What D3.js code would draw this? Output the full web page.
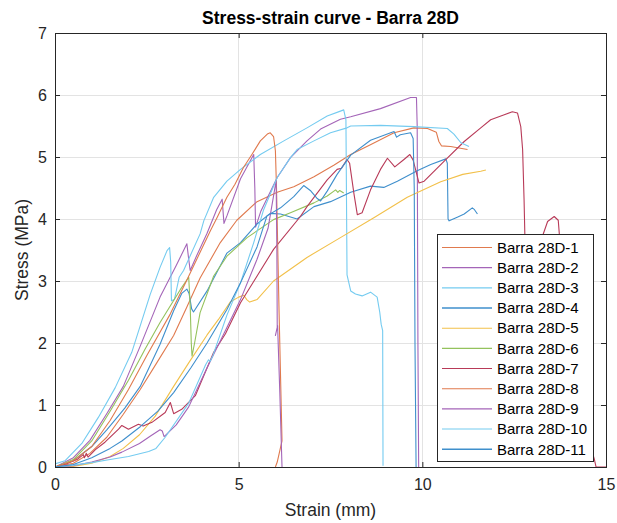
<!DOCTYPE html>
<html><head><meta charset="utf-8">
<script src="https://cdn.jsdelivr.net/npm/d3@7"></script>
<style>body{margin:0;background:#fff;}svg{display:block;font-family:"Liberation Sans",Arial,sans-serif;}</style>
</head><body><div id="chart"></div>
<script>
const seriesNames = ["Barra 28D-1","Barra 28D-2","Barra 28D-3","Barra 28D-4","Barra 28D-5","Barra 28D-6","Barra 28D-7","Barra 28D-8","Barra 28D-9","Barra 28D-10","Barra 28D-11"];
const seriesColors = ["#E07A4E","#A465B8","#74CBF0","#3F8FCC","#F2C04A","#94C25C","#B83A58","#E07A4E","#A465B8","#74CBF0","#3F8FCC"];
const xTicks = [0,5,10,15];
const yTicks = [0,1,2,3,4,5,6,7];

const barra1 = [[0,0],[0.5,0.06],[0.95,0.22],[1.41,0.48],[1.86,0.85],[2.32,1.25],[2.77,1.68],[3.23,2.12],[3.59,2.58],[3.95,3.05],[4.5,3.62],[4.95,3.98],[5.5,4.28],[6.05,4.43],[6.5,4.52],[7.05,4.68],[7.6,4.87],[8.05,5.04],[8.6,5.2],[9.23,5.39],[9.77,5.47],[10.14,5.46],[10.38,5.4],[10.45,5.25],[10.52,5.18],[10.77,5.17],[11.23,5.12]];
const barra2 = [[0,0],[0.5,0.15],[0.95,0.43],[1.4,0.85],[1.86,1.3],[2.32,1.95],[2.86,2.74],[3.3,3.25],[3.59,3.6],[3.63,3.4],[3.68,3.17],[3.85,3.4],[4.14,3.77],[4.4,4.15],[4.55,4.32],[4.6,3.93],[4.68,4.05],[5.05,4.65],[5.41,5.04],[5.44,4.5],[5.46,3.87],[5.6,4.12],[6.05,4.67],[6.41,4.99],[6.86,5.26],[7.23,5.45],[7.77,5.61],[8.05,5.65],[8.86,5.78],[9.68,5.96],[9.84,5.96],[9.86,5.5],[9.88,2],[9.9,0]];
const barra3 = [[0,0.05],[0.27,0.1],[0.73,0.38],[1.18,0.8],[1.64,1.28],[2.09,1.85],[2.59,2.78],[2.86,3.22],[3.05,3.49],[3.12,3.54],[3.15,3.3],[3.17,2.68],[3.25,2.7],[3.38,3.06],[3.5,3.17],[3.95,3.76],[4.05,3.97],[4.32,4.35],[4.68,4.61],[5.05,4.8],[5.59,5.04],[6.23,5.26],[6.86,5.47],[7.41,5.66],[7.77,5.74],[7.86,5.76],[7.92,5.6],[7.95,3.1],[8.05,2.84],[8.18,2.79],[8.36,2.76],[8.59,2.82],[8.77,2.74],[8.84,2.5],[8.88,2.3],[8.92,2.2],[8.93,0.02]];
const barra4 = [[0,0],[0.5,0.1],[1.0,0.33],[1.41,0.6],[1.9,0.95],[2.32,1.3],[2.86,1.98],[3.23,2.52],[3.45,2.8],[3.59,2.87],[3.65,2.8],[3.72,2.55],[3.77,2.5],[4.14,2.84],[4.68,3.45],[5.05,3.62],[5.5,3.92],[5.86,4.09],[6.14,4.08],[6.59,4.0],[7.05,4.2],[7.5,4.28],[8.05,4.43],[8.59,4.53],[8.95,4.51],[9.32,4.61],[9.86,4.78],[10.23,4.88],[10.64,4.97],[10.68,4.9],[10.7,4.0],[10.73,3.97],[10.95,4.03],[11.14,4.08],[11.36,4.18],[11.42,4.15],[11.5,4.08]];
const barra5 = [[0,0],[0.5,0.01],[1.0,0.06],[1.5,0.17],[1.86,0.3],[2.3,0.52],[2.73,0.82],[3.23,1.3],[3.64,1.68],[4.14,2.13],[4.45,2.38],[4.77,2.66],[5.0,2.74],[5.14,2.77],[5.22,2.7],[5.3,2.66],[5.5,2.7],[5.95,3.0],[6.86,3.38],[7.77,3.7],[8.68,4.02],[9.59,4.35],[10.5,4.6],[11.1,4.72],[11.59,4.77],[11.73,4.79]];
const barra6 = [[0,0],[0.5,0.12],[1.0,0.42],[1.5,0.9],[2.0,1.4],[2.45,1.9],[2.86,2.33],[3.41,2.86],[3.64,3.06],[3.68,2.6],[3.71,2.0],[3.73,1.79],[3.8,2.0],[3.95,2.49],[4.32,3.08],[4.68,3.4],[5.23,3.7],[5.95,3.99],[6.41,4.1],[7.05,4.26],[7.41,4.37],[7.64,4.47],[7.7,4.43],[7.75,4.46],[7.86,4.42]];
const barra7 = [[0,0],[0.3,0.05],[0.6,0.12],[0.77,0.2],[0.8,0.15],[0.85,0.22],[0.9,0.16],[1.1,0.28],[1.36,0.4],[1.73,0.61],[1.82,0.67],[2.0,0.61],[2.27,0.69],[2.4,0.66],[2.64,0.72],[3.0,0.88],[3.14,1.04],[3.23,0.86],[3.45,0.93],[3.82,1.15],[4.32,1.85],[4.64,2.15],[5.05,2.65],[5.95,3.51],[6.68,4.04],[6.86,4.2],[7.41,4.63],[7.68,4.8],[7.8,4.82],[7.95,4.96],[8.02,4.9],[8.14,4.4],[8.23,4.07],[8.36,4.1],[8.59,4.47],[8.86,4.8],[9.05,4.98],[9.25,4.84],[9.5,4.96],[9.66,5.04],[9.75,4.95],[9.91,4.58],[10.05,4.61],[10.59,4.93],[11.14,5.25],[11.59,5.47],[11.86,5.6],[12.23,5.68],[12.45,5.73],[12.59,5.71],[12.68,5.49],[12.73,5.12],[12.77,4.3],[12.8,3.5],[12.85,2.5],[13.0,2.2],[13.2,3.6],[13.41,3.96],[13.59,4.04],[13.7,3.98],[13.75,3.6],[13.85,2.0],[14.3,0.9],[14.68,0.13],[14.73,0],[15.3,0]];
const barra8 = [[0,0],[0.5,0.1],[1.0,0.33],[1.5,0.75],[2.0,1.25],[2.5,1.8],[3.14,2.47],[3.6,3.03],[4.23,3.81],[4.41,4.02],[4.68,4.35],[4.9,4.56],[5.13,4.83],[5.36,5.04],[5.59,5.26],[5.78,5.37],[5.86,5.39],[5.95,5.33],[6.0,5.1],[6.03,4.5],[6.1,2.5],[6.18,0.42],[6.05,0.08],[6.0,0]];
const barra9 = [[0,0],[0.5,0.02],[1.0,0.08],[1.5,0.16],[1.82,0.24],[2.3,0.38],[2.6,0.5],[2.86,0.6],[2.92,0.58],[2.97,0.49],[3.3,0.68],[3.64,0.97],[4.14,1.6],[4.64,2.2],[5.05,2.7],[5.5,3.35],[5.8,3.85],[6.02,4.62],[6.04,3.5],[6.05,2.25],[6.0,2.12],[6.06,2.28],[6.12,1.2],[6.18,0]];
const barra10 = [[0,0],[0.5,0.03],[1.0,0.07],[1.5,0.12],[2.0,0.17],[2.55,0.25],[2.75,0.3],[3.0,0.48],[3.64,1.03],[4.1,1.65],[4.18,1.73],[4.22,1.7],[4.3,1.8],[4.68,2.45],[5.05,2.97],[5.41,3.62],[5.68,4.15],[6.05,4.67],[6.41,4.99],[6.59,5.12],[7.05,5.26],[7.5,5.39],[7.95,5.47],[8.05,5.5],[8.86,5.51],[9.77,5.49],[10.68,5.46],[10.86,5.37],[11.05,5.23],[11.27,5.17]];
const barra11 = [[0,0],[0.5,0.04],[1.0,0.15],[1.5,0.3],[1.82,0.42],[2.32,0.65],[2.8,0.9],[3.23,1.2],[3.7,1.6],[4.14,2.0],[4.68,2.54],[5.05,2.97],[5.5,3.55],[5.77,4.05],[6.14,4.18],[6.5,4.36],[6.77,4.54],[6.95,4.46],[7.14,4.33],[7.23,4.29],[7.41,4.45],[7.68,4.72],[8.05,5.03],[8.59,5.27],[9.23,5.41],[9.3,5.32],[9.4,5.36],[9.68,5.39],[9.75,5.3],[9.78,4.5],[9.8,2],[9.83,0]];

const allSeries = [barra1,barra2,barra3,barra4,barra5,barra6,barra7,barra8,barra9,barra10,barra11];
const series = seriesNames.map((name,i)=>({name, color: seriesColors[i], data: allSeries[i]}));

const W = 617, H = 523;
const m = {left:55, right:11, top:33, bottom:56};
const svg = d3.select("#chart").append("svg").attr("width",W).attr("height",H);
const x = d3.scaleLinear().domain([0,15]).range([m.left, W-m.right]);
const y = d3.scaleLinear().domain([0,7]).range([H-m.bottom, m.top]);
const axisColor = "#262626";

// grid
const grid = svg.append("g");
grid.selectAll("line.gx").data(xTicks).join("line")
  .attr("x1",d=>x(d)).attr("x2",d=>x(d)).attr("y1",y(0)).attr("y2",y(7))
  .attr("stroke","#e3e3e3").attr("stroke-width",1).attr("shape-rendering","crispEdges");
grid.selectAll("line.gy").data(yTicks).join("line")
  .attr("x1",x(0)).attr("x2",x(15)).attr("y1",d=>y(d)).attr("y2",d=>y(d))
  .attr("stroke","#e3e3e3").attr("stroke-width",1).attr("shape-rendering","crispEdges");

svg.append("defs").append("clipPath").attr("id","clip").append("rect")
  .attr("x",x(0)).attr("y",y(7)).attr("width",x(15)-x(0)).attr("height",y(0)-y(7));

const line = d3.line().x(d=>x(d[0])).y(d=>y(d[1]));
const gl = svg.append("g").attr("clip-path","url(#clip)");
gl.selectAll("path").data(series).join("path")
  .attr("d",d=>line(d.data)).attr("fill","none")
  .attr("stroke",d=>d.color).attr("stroke-width",1.1).attr("stroke-linejoin","round");

// axes
function styleAxis(g){
  g.select(".domain").remove();
  g.selectAll(".tick line").attr("stroke",axisColor);
  g.selectAll(".tick text").attr("fill",axisColor).attr("font-size",16).attr("font-family","Liberation Sans, Arial, sans-serif");
}
svg.append("g").attr("transform",`translate(0,${y(0)})`)
  .call(d3.axisBottom(x).tickValues(xTicks).tickFormat(d3.format("d")).tickSize(-5).tickPadding(12)).call(styleAxis);
svg.append("g").attr("transform",`translate(0,${y(7)})`)
  .call(d3.axisTop(x).tickValues(xTicks).tickSize(-5).tickFormat("")).call(styleAxis);
svg.append("g").attr("transform",`translate(${x(0)},0)`)
  .call(d3.axisLeft(y).tickValues(yTicks).tickFormat(d3.format("d")).tickSize(-5).tickPadding(8)).call(styleAxis);
svg.append("g").attr("transform",`translate(${x(15)},0)`)
  .call(d3.axisRight(y).tickValues(yTicks).tickSize(-5).tickFormat("")).call(styleAxis);
svg.append("rect").attr("x",x(0)).attr("y",y(7)).attr("width",x(15)-x(0)).attr("height",y(0)-y(7))
  .attr("fill","none").attr("stroke",axisColor).attr("stroke-width",1).attr("shape-rendering","crispEdges");

// labels
svg.append("text").attr("x",(x(0)+x(15))/2).attr("y",24).attr("text-anchor","middle")
  .attr("font-weight","bold").attr("font-size",17.5).attr("fill","#000").text("Stress-strain curve - Barra 28D");
svg.append("text").attr("x",(x(0)+x(15))/2).attr("y",516).attr("text-anchor","middle")
  .attr("font-size",17.5).attr("fill",axisColor).text("Strain (mm)");
svg.append("text").attr("transform",`translate(28,${(y(0)+y(7))/2}) rotate(-90)`).attr("text-anchor","middle")
  .attr("font-size",17.5).attr("fill",axisColor).text("Stress (MPa)");

// legend
const lg = svg.append("g");
const lx = 437, ly = 234, lw = 156, lh = 227, rowH = 20.17;
lg.append("rect").attr("x",lx).attr("y",ly).attr("width",lw).attr("height",lh)
  .attr("fill","#fff").attr("stroke",axisColor).attr("stroke-width",1).attr("shape-rendering","crispEdges");
const rows = lg.selectAll("g.row").data(series).join("g").attr("transform",(d,i)=>`translate(0,${247.5+i*rowH})`);
rows.append("line").attr("x1",442).attr("x2",492).attr("y1",0).attr("y2",0)
  .attr("stroke",d=>d.color).attr("stroke-width",(d,i)=>(i===3||i===10)?1.6:1.1);
rows.append("text").attr("x",497).attr("y",5.3).attr("font-size",15).attr("fill","#000").text(d=>d.name);
</script></body></html>
